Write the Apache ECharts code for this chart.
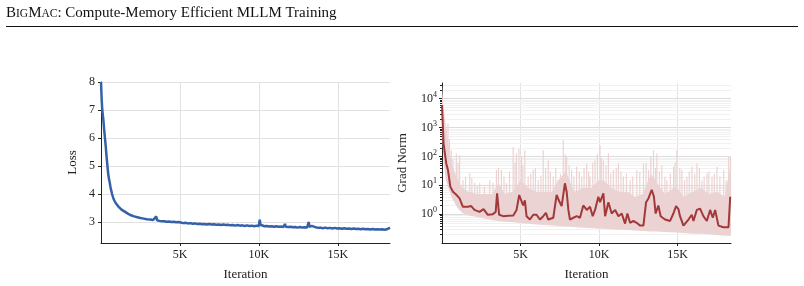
<!DOCTYPE html>
<html>
<head>
<meta charset="utf-8">
<script src="https://cdn.jsdelivr.net/npm/echarts@6.0.0/dist/echarts.min.js"></script>
<style>
  html, body { margin: 0; padding: 0; background: #fff; }
  #chart { width: 804px; height: 286px; }
</style>
</head>
<body>
<div id="chart"></div>
<script>
// loss curve (left panel)
var lossIter = [0, 20, 50, 80, 120, 150, 200, 250, 300, 350, 400, 450, 500, 550, 600, 650, 700, 780, 860, 940, 1020,
  1100, 1200, 1300, 1400, 1500, 1600, 1700, 1800, 1900, 2000, 2100, 2200, 2300, 2400, 2500, 2600, 2700, 2800, 2900, 3000,
  3100, 3200, 3300, 3400, 3500, 3550, 3600, 3700, 3850, 4000, 4150, 4300, 4450, 4600, 4750, 4900, 5000, 5050, 5200, 5350,
  5500, 5650, 5800, 5950, 6100, 6250, 6400, 6550, 6700, 6850, 7000, 7150, 7300, 7450, 7600, 7750, 7900, 8050, 8200, 8350,
  8500, 8650, 8800, 8950, 9100, 9250, 9400, 9550, 9700, 9850, 10000, 10050, 10100, 10200, 10350, 10500, 10650, 10800, 10950, 11100,
  11250, 11400, 11550, 11650, 11700, 11850, 12000, 12150, 12300, 12450, 12600, 12750, 12900, 13050, 13150, 13200, 13350, 13450, 13600, 13750,
  13900, 14050, 14200, 14350, 14500, 14650, 14800, 14950, 15100, 15250, 15400, 15550, 15700, 15850, 16000, 16150, 16300, 16450, 16600, 16750,
  16900, 17050, 17200, 17350, 17500, 17650, 17800, 17950, 18100, 18200, 18300];
var lossVal = [8.0, 7.7, 7.3, 7.0, 6.8, 6.65, 6.3, 6.0, 5.7, 5.35, 5.05, 4.75, 4.55, 4.42, 4.25, 4.12, 4.0, 3.85, 3.75, 3.67, 3.6,
  3.55, 3.49, 3.44, 3.4, 3.37, 3.33, 3.3, 3.27, 3.24, 3.22, 3.2, 3.18, 3.17, 3.15, 3.14, 3.13, 3.12, 3.11, 3.1, 3.1,
  3.09, 3.08, 3.07, 3.06, 3.2, 3.06, 3.05, 3.04, 3.03, 3.03, 3.01, 3.02, 3.0, 3.01, 2.99, 3.0, 3.06, 2.98, 2.96, 2.97,
  2.95, 2.96, 2.94, 2.95, 2.93, 2.94, 2.92, 2.93, 2.91, 2.93, 2.91, 2.92, 2.9, 2.91, 2.89, 2.91, 2.89, 2.9, 2.88, 2.89,
  2.87, 2.89, 2.87, 2.88, 2.86, 2.88, 2.86, 2.87, 2.85, 2.87, 2.86, 3.08, 2.9, 2.86, 2.85, 2.86, 2.84, 2.85, 2.83, 2.85,
  2.83, 2.84, 2.82, 2.93, 2.83, 2.82, 2.83, 2.81, 2.82, 2.8, 2.82, 2.8, 2.81, 2.8, 3.0, 2.83, 2.86, 2.8, 2.81, 2.79,
  2.8, 2.78, 2.8, 2.78, 2.79, 2.77, 2.79, 2.77, 2.78, 2.76, 2.78, 2.76, 2.77, 2.75, 2.77, 2.75, 2.76, 2.74, 2.76, 2.74,
  2.75, 2.73, 2.75, 2.73, 2.74, 2.73, 2.74, 2.72, 2.74, 2.75, 2.8];

// grad norm, smoothed (right panel)
var gradIter = [0, 100, 270, 380, 530, 700, 910, 1120, 1330, 1650, 1860, 2070, 2390, 2645, 2920, 3240, 3420, 3510, 3640, 3900,
  4220, 4540, 4750, 4920, 5065, 5170, 5280, 5385, 5600, 5810, 6025, 6235, 6450, 6620, 6770, 7090, 7300, 7470, 7620, 7830,
  7940, 8050, 8150, 8370, 8580, 8790, 9000, 9220, 9430, 9600, 9750, 9960, 10070, 10280, 10390, 10600, 10810, 11030, 11240, 11450,
  11660, 11810, 11980, 12190, 12400, 12620, 12830, 13000, 13150, 13360, 13500, 13610, 13780, 13930, 14210, 14530, 14740, 14910, 15060, 15160,
  15380, 15700, 15910, 16020, 16230, 16440, 16650, 16870, 17080, 17250, 17400, 17610, 17930, 18250, 18360];
var gradSmooth = [6000, 280, 57, 34, 9, 6, 4.7, 3.5, 1.8, 1.8, 1.9, 1.4, 1.2, 1.5, 0.95, 1.0, 1.2, 5.3, 0.95, 0.85,
  0.88, 0.9, 1.4, 4.6, 2.8, 2.0, 3.0, 0.85, 0.65, 0.95, 0.95, 0.65, 0.85, 1.1, 0.65, 0.75, 4.6, 2.8, 1.9, 11.7,
  6.0, 1.4, 0.65, 0.75, 0.85, 0.75, 2.0, 1.4, 1.8, 0.85, 1.4, 4.0, 2.6, 5.3, 0.85, 2.6, 1.05, 1.4, 0.85, 1.05,
  0.47, 1.05, 0.5, 0.58, 0.5, 0.4, 0.4, 2.6, 3.5, 7.0, 4.0, 1.05, 2.0, 0.85, 0.65, 0.58, 1.05, 1.9, 1.5, 0.85,
  0.4, 0.65, 0.95, 0.58, 1.4, 1.55, 0.85, 0.58, 1.4, 0.75, 1.4, 0.4, 0.35, 0.35, 4.0];

// raw grad norm: envelope band + spikes
var bandIter = [0, 100, 250, 400, 600, 800, 1000, 1300, 1700, 2200, 2700, 3200, 3600, 4000, 4500, 5000, 5500, 6000, 6500, 7000,
  7400, 7900, 8400, 9000, 9500, 10000, 10300, 10800, 11300, 11800, 12300, 12800, 13300, 13700, 14200, 14900, 15400, 16000, 16500, 17000,
  17500, 18000, 18410];
var bandLow = [800, 60, 15, 8, 4, 2.5, 1.6, 1.1, 0.9, 0.8, 0.7, 0.62, 0.58, 0.55, 0.52, 0.49, 0.46, 0.44, 0.42, 0.4,
  0.39, 0.37, 0.36, 0.34, 0.33, 0.31, 0.31, 0.3, 0.29, 0.28, 0.27, 0.26, 0.25, 0.25, 0.24, 0.23, 0.22, 0.21, 0.21, 0.2,
  0.19, 0.18, 0.18];
var bandHigh = [30000, 5000, 1000, 300, 60, 30, 15, 8, 6, 5, 5, 5, 12, 5, 6, 15, 8, 6, 6, 6,
  15, 30, 6, 8, 8, 15, 15, 8, 6, 6, 4, 5, 25, 12, 5, 9, 4, 6, 8, 5,
  6, 4, 60];
var spikeIter = [167, 270, 380, 480, 593, 700, 912, 1020, 1125, 1338, 1500, 1764, 1900, 2083, 2250, 2402, 2700, 3041, 3250, 3467,
  3600, 3786, 3950, 4106, 4300, 4531, 4650, 4744, 4900, 5064, 5150, 5276, 5489, 5650, 5809, 5950, 6128, 6300, 6447, 6600,
  6767, 6900, 7086, 7250, 7405, 7550, 7725, 7850, 7938, 8100, 8257, 8400, 8576, 8750, 8896, 9050, 9215, 9350, 9428, 9600,
  9747, 9900, 10067, 10150, 10280, 10450, 10599, 10750, 10918, 11100, 11238, 11400, 11557, 11750, 11983, 12150, 12409, 12600, 12834, 13000,
  13154, 13300, 13473, 13600, 13686, 13850, 14005, 14200, 14325, 14550, 14751, 14850, 14963, 15150, 15283, 15450, 15602, 15750, 15921, 16100,
  16241, 16400, 16560, 16700, 16880, 17000, 17199, 17350, 17518, 17700, 17944, 18100, 18264, 18380];
var spikePeak = [1780, 900, 1380, 400, 165, 80, 126, 60, 112, 15, 20, 26, 18, 12, 10, 12, 9, 15, 12, 34,
  40, 34, 20, 12, 30, 214, 60, 126, 180, 97, 50, 165, 20, 25, 34, 40, 15, 22, 165, 40,
  74, 30, 20, 40, 15, 25, 363, 120, 97, 50, 34, 20, 44, 30, 20, 40, 57, 30, 20, 60,
  74, 120, 245, 90, 74, 50, 126, 25, 34, 40, 57, 30, 20, 25, 15, 20, 34, 30, 57, 60,
  34, 100, 165, 40, 126, 30, 50, 20, 15, 25, 44, 60, 165, 40, 34, 15, 20, 30, 44, 25,
  57, 40, 15, 20, 26, 30, 20, 25, 44, 20, 34, 15, 97, 100];
// spike feet for the first spikes, where the band is still high; later feet sit at 1
var spikeLowStart = [200, 100, 40, 15, 8, 5, 3, 2, 2, 1.2];

// tick values
var xTicks = [5000, 10000, 15000];
var lossTicks = [3, 4, 5, 6, 7, 8];
var gradTicks = [1, 10, 100, 1000, 10000];
var gradMinor = [0.2, 0.3, 0.4, 0.5, 0.6, 0.7, 0.8, 0.9, 2, 3, 4, 5, 6, 7, 8, 9,
  20, 30, 40, 50, 60, 70, 80, 90, 200, 300, 400, 500, 600, 700, 800, 900,
  2000, 3000, 4000, 5000, 6000, 7000, 8000, 9000, 20000, 30000];

var serif = 'Liberation Serif';
var ink = '#222';
var gridColor = '#e2e2e2';
var pink = '#ecd3d3';

var lossData = lossIter.map(function (x, i) { return [x, lossVal[i]]; });
var gradData = gradIter.map(function (x, i) { return [x, gradSmooth[i]]; });
var spikeData = [];
spikeIter.forEach(function (x, i) {
  var low = i < spikeLowStart.length ? spikeLowStart[i] : 1;
  spikeData.push([x, low], [x, spikePeak[i]], [x, null]);
});
var minorData = gradMinor.map(function (v) { return [0, v]; });

function kLabel(v) {
  return (v / 1000) + 'K';
}

function xAxisOf(idx, max) {
  return {
    type: 'value', gridIndex: idx, min: 0, max: max,
    name: 'Iteration', nameLocation: 'middle', nameGap: 25,
    nameTextStyle: { fontFamily: serif, fontSize: 13, color: ink },
    axisLine: { show: true, lineStyle: { color: ink, width: 1 } },
    axisTick: { show: true, length: 3, lineStyle: { color: ink }, customValues: xTicks },
    axisLabel: { formatter: kLabel, fontFamily: serif, fontSize: 12, color: ink, margin: 6, customValues: xTicks },
    splitLine: { show: true, lineStyle: { color: gridColor } }
  };
}

// band polygon between bandLow and bandHigh, placed through the axis scales
function renderBand(params, api) {
  var pts = [];
  for (var i = 0; i < bandIter.length; i++) pts.push(api.coord([bandIter[i], bandHigh[i]]));
  for (var j = bandIter.length - 1; j >= 0; j--) pts.push(api.coord([bandIter[j], bandLow[j]]));
  return { type: 'polygon', shape: { points: pts }, style: { fill: pink } };
}

// log minor ticks and faint minor grid lines
function renderMinor(params, api) {
  var cs = params.coordSys;
  var y = Math.round(api.coord([0, api.value(1)])[1]) + 0.5;
  return {
    type: 'group',
    children: [
      { type: 'line', shape: { x1: cs.x, y1: y, x2: cs.x + cs.width, y2: y }, style: { stroke: '#f1f1f1', lineWidth: 1 } },
      { type: 'line', shape: { x1: cs.x - 2, y1: y, x2: cs.x, y2: y }, style: { stroke: ink, lineWidth: 1 } }
    ]
  };
}

var myChart = echarts.init(document.getElementById('chart'));
var option = {
  animation: false,
  backgroundColor: '#fff',
  graphic: [
    {
      type: 'text', left: 6, top: 6,
      style: {
        text: '{a|B}{b|IG}{a|M}{b|AC}{a|: Compute-Memory Efficient MLLM Training}',
        rich: {
          a: { fontFamily: serif, fontSize: 15, fill: '#111' },
          b: { fontFamily: serif, fontSize: 11.5, fill: '#111' }
        }
      }
    },
    {
      type: 'line', shape: { x1: 6, y1: 26.5, x2: 798, y2: 26.5 },
      style: { stroke: '#111', lineWidth: 1 }
    }
  ],
  grid: [
    { left: 101, right: 414, top: 82, bottom: 43 },
    { left: 442, right: 73, top: 83, bottom: 43 }
  ],
  xAxis: [xAxisOf(0, 18300), xAxisOf(1, 18410)],
  yAxis: [
    {
      type: 'value', gridIndex: 0, min: 2.25, max: 8,
      name: 'Loss', nameLocation: 'middle', nameGap: 22,
      nameTextStyle: { fontFamily: serif, fontSize: 13, color: ink },
      axisLine: { show: true, lineStyle: { color: ink } },
      axisTick: { show: true, length: 3, lineStyle: { color: ink }, customValues: lossTicks },
      axisLabel: { fontFamily: serif, fontSize: 12, color: ink, margin: 6, customValues: lossTicks },
      splitLine: { show: true, lineStyle: { color: gridColor } }
    },
    {
      type: 'log', gridIndex: 1, min: 0.1, max: 35000, logBase: 10,
      name: 'Grad Norm', nameLocation: 'middle', nameGap: 33,
      nameTextStyle: { fontFamily: serif, fontSize: 13, color: ink },
      axisLine: { show: true, lineStyle: { color: ink } },
      axisTick: { show: true, length: 3, lineStyle: { color: ink }, customValues: gradTicks },
      axisLabel: {
        margin: 5,
        customValues: gradTicks,
        formatter: function (v) {
          return '{b|10}{s|' + Math.round(Math.log10(v)) + '}';
        },
        rich: {
          b: { fontFamily: serif, fontSize: 12, color: ink, lineHeight: 16 },
          s: { fontFamily: serif, fontSize: 8, color: ink, lineHeight: 8, verticalAlign: 'top' }
        }
      },
      splitLine: { show: true, lineStyle: { color: '#dcdcdc' } }
    }
  ],
  series: [
    {
      type: 'line', xAxisIndex: 0, yAxisIndex: 0, data: lossData,
      showSymbol: false, lineStyle: { color: '#3461a8', width: 2.5 }, z: 3
    },
    {
      type: 'custom', xAxisIndex: 1, yAxisIndex: 1, data: minorData,
      renderItem: renderMinor, silent: true, z: 0
    },
    {
      type: 'custom', xAxisIndex: 1, yAxisIndex: 1, data: [[0, 1]],
      renderItem: renderBand, silent: true, z: 1
    },
    {
      type: 'line', xAxisIndex: 1, yAxisIndex: 1, data: spikeData, connectNulls: false,
      showSymbol: false, lineStyle: { color: pink, width: 1.2 }, z: 1
    },
    {
      type: 'line', xAxisIndex: 1, yAxisIndex: 1, data: gradData,
      showSymbol: false, lineStyle: { color: '#a3383a', width: 2 }, z: 3
    }
  ]
};
myChart.setOption(option);
window.addEventListener('resize', function () { myChart.resize(); });
</script>
</body>
</html>
